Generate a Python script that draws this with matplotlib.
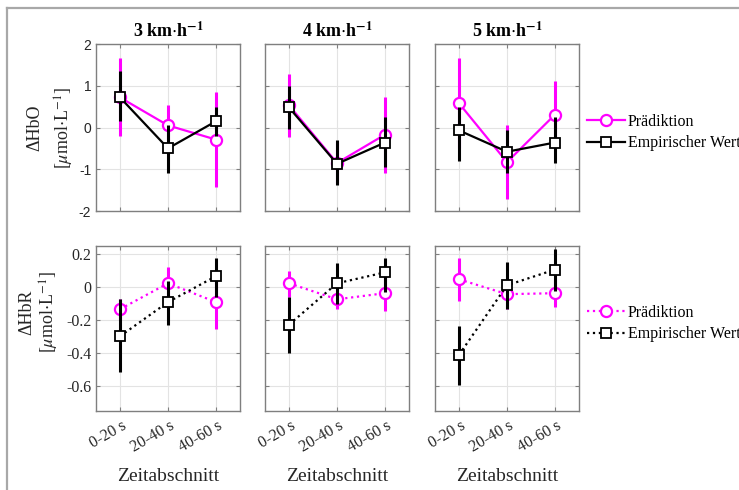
import matplotlib
matplotlib.use("Agg")
import matplotlib.pyplot as plt
import matplotlib.transforms as mtransforms
from matplotlib.lines import Line2D
import numpy as np

plt.rcParams['font.family'] = ['Liberation Serif', 'DejaVu Serif']
plt.rcParams['mathtext.fontset'] = 'stix'

categories = ['0-20 s', '20-40 s', '40-60 s']
speeds = [r'3 km$\cdot$h$^{\mathbf{-1}}$', r'4 km$\cdot$h$^{\mathbf{-1}}$', r'5 km$\cdot$h$^{\mathbf{-1}}$']
series_names = ['Prädiktion', 'Empirischer Wert']

# HbO (top row): per panel (3, 4, 5 km/h)
pred_hbo = [[0.72, 0.05, -0.29], [0.53, -0.85, -0.17], [0.58, -0.83, 0.31]]
pred_hbo_lo = [[-0.20, -0.45, -1.43], [-0.23, -1.35, -1.08], [-0.50, -1.72, -0.45]]
pred_hbo_hi = [[1.66, 0.55, 0.84], [1.28, -0.35, 0.72], [1.66, 0.07, 1.11]]
emp_hbo = [[0.72, -0.50, 0.15], [0.48, -0.87, -0.36], [-0.07, -0.58, -0.36]]
emp_hbo_lo = [[0.15, -1.08, -0.20], [-0.03, -1.37, -0.95], [-0.80, -1.08, -0.85]]
emp_hbo_hi = [[1.35, 0.05, 0.50], [1.00, -0.31, 0.26], [0.50, -0.07, 0.25]]

# HbR (bottom row)
pred_hbr = [[-0.133, 0.024, -0.09], [0.024, -0.073, -0.036], [0.048, -0.042, -0.036]]
pred_hbr_lo = [[-0.20, -0.07, -0.255], [-0.06, -0.13, -0.145], [-0.085, -0.13, -0.12]]
pred_hbr_hi = [[-0.07, 0.12, 0.07], [0.10, -0.02, 0.07], [0.18, 0.05, 0.05]]
emp_hbr = [[-0.297, -0.09, 0.067], [-0.227, 0.024, 0.09], [-0.41, 0.012, 0.107]]
emp_hbr_lo = [[-0.515, -0.23, -0.06], [-0.40, -0.10, -0.03], [-0.594, -0.13, -0.02]]
emp_hbr_hi = [[-0.07, 0.04, 0.18], [-0.06, 0.145, 0.18], [-0.236, 0.15, 0.23]]

hbo_ticks = [2, 1, 0, -1, -2]
hbr_ticks = [0.2, 0, -0.2, -0.4, -0.6]

MAG = '#ff00ff'
W, H = 739, 490
fig = plt.figure(figsize=(W / 100, H / 100), dpi=100)

# outer frame lines (top and left)
fig.add_artist(Line2D([7 / W, 1], [1 - 8 / H, 1 - 8 / H], color='#a8a8a8', lw=1.6, transform=fig.transFigure))
fig.add_artist(Line2D([7 / W, 7 / W], [0, 1 - 8 / H], color='#a8a8a8', lw=1.6, transform=fig.transFigure))

lefts = [96, 265, 435]
pw = 144
rows = [(44, 211), (246, 411)]
x = np.arange(1, 4)
AX_COL = '#7f7f7f'
TXT = '#262626'


def style_axes(ax):
    for s in ax.spines.values():
        s.set_color(AX_COL)
        s.set_linewidth(1.0)
    ax.grid(True, color='#e3e3e3', lw=0.8)
    ax.set_axisbelow(True)
    ax.tick_params(direction='in', length=3, color=AX_COL, width=0.8, top=True, right=True)
    ax.set_xlim(0.5, 3.5)
    ax.set_xticks(x)


def draw(ax, pv, plo, phi, ev, elo, ehi, ls):
    pv, plo, phi = map(np.asarray, (pv, plo, phi))
    ev, elo, ehi = map(np.asarray, (ev, elo, ehi))
    ax.errorbar(x, pv, yerr=[pv - plo, phi - pv], fmt='none', ecolor=MAG, elinewidth=2.2, capsize=0, zorder=2)
    l1, = ax.plot(x, pv, ls=ls, color=MAG, lw=1.6, marker='o', ms=8, mfc='white', mec=MAG, mew=1.6, zorder=3,
                  label=series_names[0])
    ax.errorbar(x, ev, yerr=[ev - elo, ehi - ev], fmt='none', ecolor='black', elinewidth=2.2, capsize=0, zorder=4)
    l2, = ax.plot(x, ev, ls=ls, color='black', lw=1.6, marker='s', ms=6.5, mfc='white', mec='black', mew=1.3, zorder=5,
                  label=series_names[1])
    return l1, l2


for i in range(3):
    t, b = rows[0]
    ax = fig.add_axes([lefts[i] / W, 1 - b / H, pw / W, (b - t) / H])
    style_axes(ax)
    ax.set_ylim(-2, 2)
    ax.set_yticks(hbo_ticks)
    ax.set_xticklabels([])
    h = draw(ax, pred_hbo[i], pred_hbo_lo[i], pred_hbo_hi[i], emp_hbo[i], emp_hbo_lo[i], emp_hbo_hi[i], '-')
    ax.set_title(speeds[i], fontsize=13, fontweight='bold', pad=5)
    if i == 0:
        ax.set_yticklabels([str(v) for v in hbo_ticks], fontsize=10, family='Liberation Sans', color=TXT)
        ax.set_ylabel('ΔHbO\n' + r'[$\mu$mol$\cdot$L$^{-1}$]', fontsize=13, linespacing=1.55, color=TXT)
        ax.yaxis.set_label_coords(-0.14, 0.5)
    else:
        ax.set_yticklabels([])
    if i == 2:
        ax.legend(handles=list(h), loc='center left', bbox_to_anchor=(1.0, 0.47), frameon=False,
                  fontsize=11.5, handlelength=2.4, handletextpad=0.15, labelspacing=0.35, borderaxespad=0.1)

for i in range(3):
    t, b = rows[1]
    ax = fig.add_axes([lefts[i] / W, 1 - b / H, pw / W, (b - t) / H])
    style_axes(ax)
    ax.set_ylim(-0.75, 0.25)
    ax.set_yticks(hbr_ticks)
    h = draw(ax, pred_hbr[i], pred_hbr_lo[i], pred_hbr_hi[i], emp_hbr[i], emp_hbr_lo[i], emp_hbr_hi[i], ':')
    ax.set_xticklabels(categories, rotation=30, ha='right', fontsize=11.5, color=TXT)
    off = mtransforms.ScaledTranslation(9 / 100, -2 / 100, fig.dpi_scale_trans)
    for lab in ax.get_xticklabels():
        lab.set_transform(lab.get_transform() + off)
    ax.set_xlabel('Zeitabschnitt', fontsize=14, color=TXT, labelpad=9)
    if i == 0:
        ax.set_yticklabels([('%g' % v) for v in hbr_ticks], fontsize=11.5, color=TXT)
        ax.set_ylabel('ΔHbR\n' + r'[$\mu$mol$\cdot$L$^{-1}$]', fontsize=13, linespacing=1.2, color=TXT)
        ax.yaxis.set_label_coords(-0.24, 0.60)
    else:
        ax.set_yticklabels([])
    if i == 2:
        ax.legend(handles=list(h), loc='center left', bbox_to_anchor=(1.0, 0.53), frameon=False,
                  fontsize=11.5, handlelength=2.4, handletextpad=0.15, labelspacing=0.35, borderaxespad=0.1)

fig.savefig('out.png', dpi=100)
